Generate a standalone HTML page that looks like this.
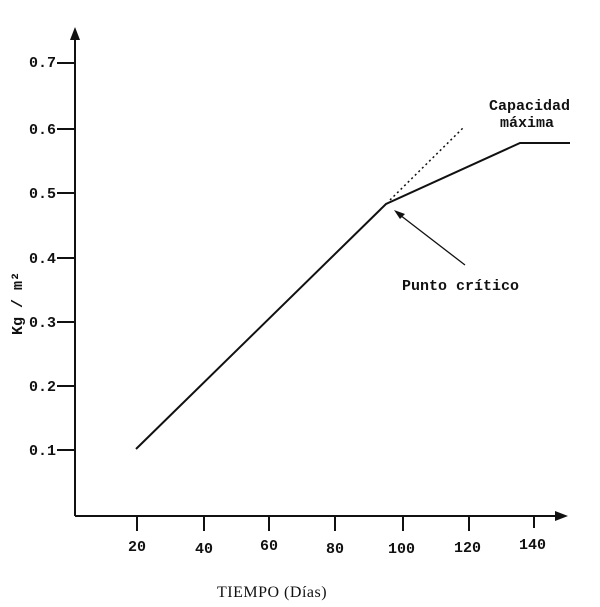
<!DOCTYPE html>
<html><head><meta charset="utf-8"><style>
html,body{margin:0;padding:0;background:#fff;}
svg{display:block;}
text{font-family:"Liberation Mono","DejaVu Sans Mono",monospace;fill:#111;font-weight:bold;}
</style></head><body>
<svg width="600" height="607" viewBox="0 0 600 607" xmlns="http://www.w3.org/2000/svg">
<g stroke="#111" stroke-width="2" fill="none">
<line x1="75" y1="36" x2="75" y2="516"/>
<line x1="75" y1="516" x2="560" y2="516"/>
<line x1="57" y1="63" x2="75" y2="63"/>
<line x1="57" y1="129" x2="75" y2="129"/>
<line x1="57" y1="193" x2="75" y2="193"/>
<line x1="57" y1="258" x2="75" y2="258"/>
<line x1="57" y1="322" x2="75" y2="322"/>
<line x1="57" y1="386" x2="75" y2="386"/>
<line x1="57" y1="450" x2="75" y2="450"/>
<line x1="137" y1="516" x2="137" y2="531"/>
<line x1="204" y1="516" x2="204" y2="531"/>
<line x1="269" y1="516" x2="269" y2="531"/>
<line x1="335" y1="516" x2="335" y2="531"/>
<line x1="403" y1="516" x2="403" y2="531"/>
<line x1="469" y1="516" x2="469" y2="531"/>
<line x1="534" y1="516" x2="534" y2="528"/>
<polyline points="136,449 386,204 520,143 570,143"/>
</g>
<polygon points="75,27 70,40 80,40" fill="#111"/>
<polygon points="568,516 555,511 555,521" fill="#111"/>
<line x1="390" y1="200" x2="464" y2="127" stroke="#111" stroke-width="1.5" stroke-dasharray="2,3"/>
<line x1="465" y1="265" x2="400" y2="215" stroke="#111" stroke-width="1.3"/>
<polygon points="394,210 405,214 400,219" fill="#111"/>
<g font-size="15">
<text x="29" y="67">0.7</text>
<text x="29" y="134">0.6</text>
<text x="29" y="198">0.5</text>
<text x="29" y="263">0.4</text>
<text x="29" y="327">0.3</text>
<text x="29" y="391">0.2</text>
<text x="29" y="455">0.1</text>
<text x="128" y="551">20</text>
<text x="195" y="553">40</text>
<text x="260" y="550">60</text>
<text x="326" y="553">80</text>
<text x="388" y="553">100</text>
<text x="454" y="552">120</text>
<text x="519" y="549">140</text>
<text x="489" y="110">Capacidad</text>
<text x="500" y="127">máxima</text>
<text x="402" y="290">Punto crítico</text>
</g>
<text x="217" y="597" font-size="16" style="font-family:'Liberation Serif',serif;font-weight:normal;letter-spacing:0.5px">TIEMPO  (Días)</text>
<text transform="translate(22,335) rotate(-90)" font-size="15">Kg / m²</text>
</svg>
</body></html>
